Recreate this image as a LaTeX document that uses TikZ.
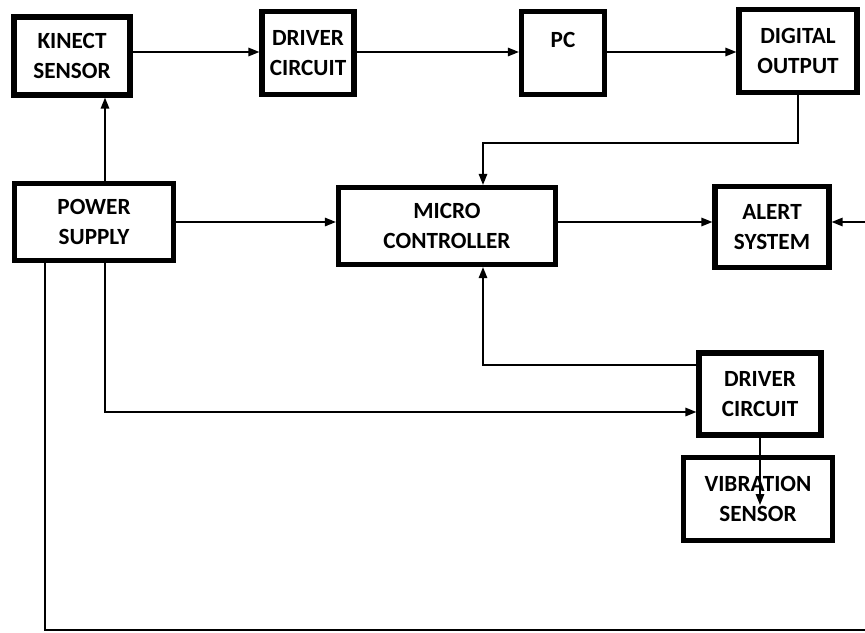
\documentclass[tikz,border=0pt]{standalone}
\usepackage{fontspec}
\setmainfont{Carlito}
\usetikzlibrary{arrows.meta, positioning, calc}

\begin{document}
\begin{tikzpicture}[
  x=0.02cm, y=-0.02cm,
  blk/.style={draw, line width=3pt, fill=white, align=center, inner sep=2pt, font=\fontsize{13.2}{16.8}\selectfont\bfseries},
  conn/.style={draw, line width=0.85pt, -{Triangle[length=2.2mm,width=1.7mm]}},
  wire/.style={draw, line width=0.85pt}
]
  \useasboundingbox (0,0) rectangle (865,632);

  \node[blk, minimum width=2.32cm, minimum height=1.56cm] (kinect) at (72,56) {KINECT\\SENSOR};
  \node[blk, minimum width=1.84cm, minimum height=1.66cm] (drv1) at (308,53) {DRIVER\\CIRCUIT};
  \node[blk, minimum width=1.66cm, minimum height=1.66cm] (pc) at (563,53) {PC\\[-2pt]\phantom{X}};
  \node[blk, minimum width=2.36cm, minimum height=1.66cm] (dig) at (798,51) {DIGITAL\\OUTPUT};
  \node[blk, minimum width=3.18cm, minimum height=1.54cm] (power) at (94,222) {POWER\\SUPPLY};
  \node[blk, minimum width=4.34cm, minimum height=1.54cm] (micro) at (447,226) {MICRO\\CONTROLLER};
  \node[blk, minimum width=2.28cm, minimum height=1.62cm] (alert) at (772,227) {ALERT\\SYSTEM};
  \node[blk, minimum width=2.44cm, minimum height=1.64cm] (drv2) at (760,394) {DRIVER\\CIRCUIT};
  \node[blk, minimum width=2.98cm, minimum height=1.66cm] (vib) at (758,499) {VIBRATION\\SENSOR};

  \coordinate (edgeR) at (865,222);
  \coordinate (edgeB) at (865,630);

  \draw[conn] (kinect.east |- 0,52) -- (drv1.west |- 0,52);
  \draw[conn] (drv1.east |- 0,52) -- (pc.west |- 0,52);
  \draw[conn] (pc.east |- 0,52) -- (dig.west |- 0,52);
  \draw[conn] (dig.south) -- (dig.south |- 0,143) -| ([xshift=0.72cm]micro.north);
  \draw[conn] ([xshift=0.22cm]power.north) -- ([xshift=0.22cm]power.north |- kinect.south);
  \draw[conn] (power.east) -- (micro.west |- power.east);
  \draw[conn] (micro.east |- 0,222) -- (alert.west |- 0,222);
  \draw[conn] (edgeR) -- (alert.east |- edgeR);
  \draw[conn] (drv2.west |- 0,365) -| ([xshift=0.72cm]micro.south);
  \draw[conn] ([xshift=0.22cm]power.south) |- (drv2.west |- 0,412);
  \draw[conn] (drv2.south) -- (drv2.south |- 0,505);
  \draw[wire] ([xshift=-0.98cm]power.south) |- (edgeB);
\end{tikzpicture}
\end{document}
